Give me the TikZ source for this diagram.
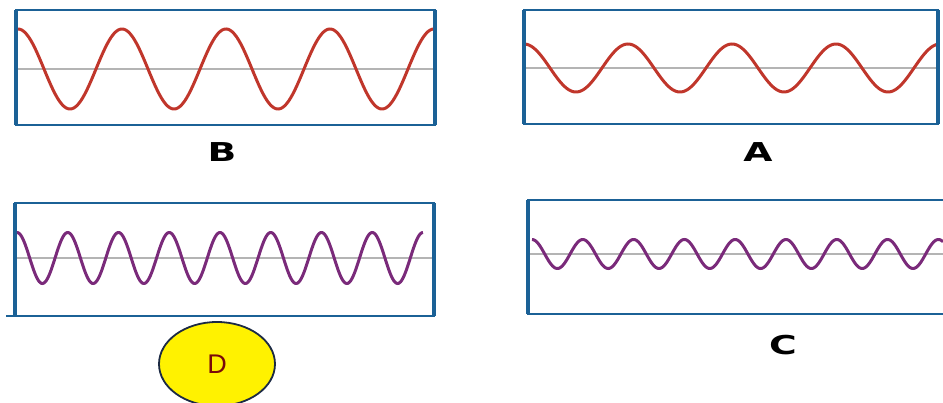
\documentclass[tikz,border=0pt]{standalone}
\usepackage{fontspec}
\setmainfont{Liberation Sans}
\newfontfamily\labfont{DejaVu Sans}
\usetikzlibrary{shapes.geometric}
\definecolor{boxblue}{HTML}{1B6196}
\definecolor{wavered}{HTML}{C0362B}
\definecolor{wavepurple}{HTML}{7A2A7A}
\definecolor{midgray}{HTML}{B4B4B4}
\definecolor{ellborder}{HTML}{1C2A44}
\definecolor{dred}{HTML}{7A0A0A}
\begin{document}
\begin{tikzpicture}[x=1pt,y=-1pt,
  frame/.style={draw=boxblue,line width=2.8pt},
  side/.style={draw=boxblue,line width=4pt},
  axisline/.style={draw=midgray,line width=1.2pt},
  redwave/.style={draw=wavered,line width=3pt,samples=300},
  purplewave/.style={draw=wavepurple,line width=3pt,samples=400},
  lab/.style={font=\labfont\bfseries\fontsize{26}{26}\selectfont,text=black,inner sep=0pt}]
\useasboundingbox (0,0) rectangle (943,403);
% Box B
\draw[axisline] (16,69) -- (435,69);
\draw[redwave] plot[domain=16:435] (\x,{69-40*cos((\x-18)*3.4615)});
\draw[frame] (16,10) rectangle (435,125);
\draw[side] (16,10) -- (16,125) (435,10) -- (435,125);
\node[lab] (labB) at (222,152) {\scalebox{1.45}[1]{B}};
% Box A
\draw[axisline] (524,68) -- (938,68);
\draw[redwave] plot[domain=524:938] (\x,{68-24*cos((\x-524)*3.4615)});
\draw[frame] (524,10) rectangle (938,124);
\draw[side] (524,10) -- (524,124) (938,10) -- (938,124);
\node[lab] (labA) at (758,152) {\scalebox{1.45}[1]{A}};
% Box D
\draw[axisline] (15,258) -- (434,258);
\draw[purplewave] plot[domain=17:423] (\x,{258-25.5*cos((\x-17)*7.0936)});
\draw[frame] (15,203) rectangle (434,316);
\draw[side] (15,203) -- (15,316) (434,203) -- (434,316);
\draw[frame] (6,316) -- (15,316);
\node[draw=ellborder,line width=1.8pt,fill=yellow,ellipse,minimum width=116pt,minimum height=84pt,inner sep=0pt,text=dred,font=\fontsize{27}{27}\selectfont] (ellD) at (217,364) {D};
% Box C
\draw[axisline] (528,254) -- (943,254);
\draw[purplewave] plot[domain=532:943] (\x,{254-14.5*cos((\x-532)*7.0866)});
\draw[frame] (528,200) rectangle (946,314);
\draw[side] (528,200) -- (528,314);
\node[lab] (labC) at (783,345) {\scalebox{1.45}[1]{C}};
\end{tikzpicture}
\end{document}
